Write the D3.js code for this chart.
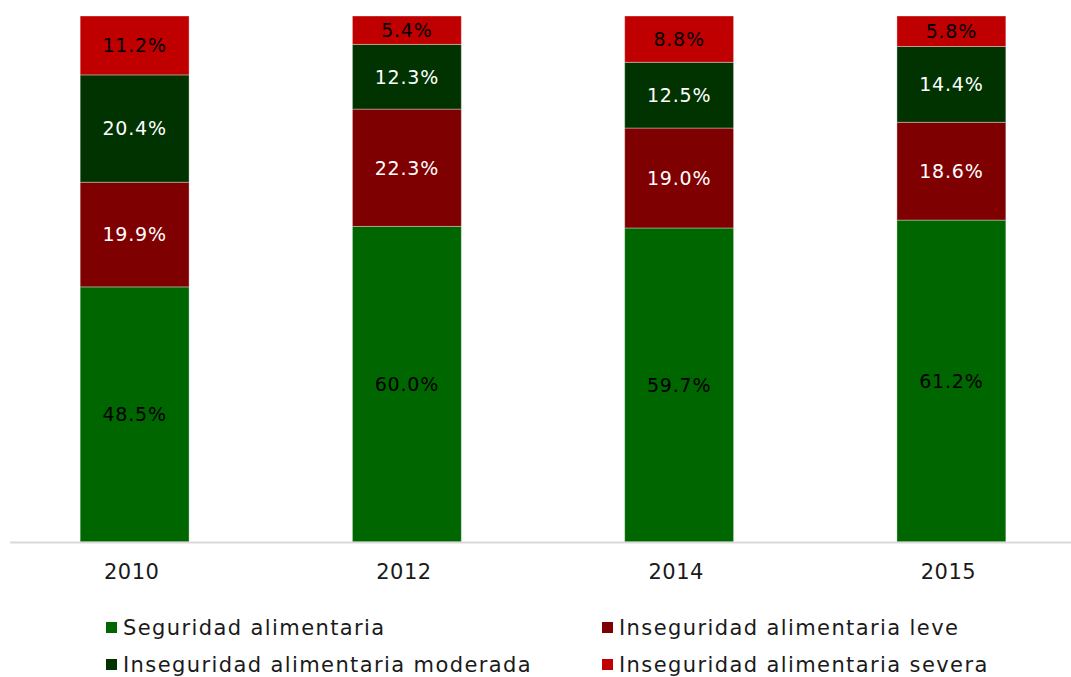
<!DOCTYPE html>
<html><head><meta charset="utf-8">
<script src="https://cdn.jsdelivr.net/npm/d3@7"></script>
<style>body{margin:0;background:#fff;} svg{display:block;}</style>
</head><body>
<svg id="c" width="1071" height="677"></svg>
<script>
const years = ["2010", "2012", "2014", "2015"];
const seriesNames = ["Seguridad alimentaria", "Inseguridad alimentaria leve", "Inseguridad alimentaria moderada", "Inseguridad alimentaria severa"];
const seguridad = [48.5, 60.0, 59.7, 61.2];
const leve = [19.9, 22.3, 19.0, 18.6];
const moderada = [20.4, 12.3, 12.5, 14.4];
const severa = [11.2, 5.4, 8.8, 5.8];
const colors = ["#006600", "#7f0000", "#003300", "#c00000"];
const labelColors = ["#000", "#fff", "#fff", "#000"];

const seriesVals = [seguridad, leve, moderada, severa];
const table = years.map((y, i) => {
  const o = {year: y};
  seriesNames.forEach((s, k) => o[s] = seriesVals[k][i]);
  return o;
});
const stacked = d3.stack().keys(seriesNames)(table);

const svg = d3.select("#c");
const x = d3.scaleBand().domain(years).range([-1.5, 1087.5]).paddingInner(0.6).paddingOuter(0.3);
const y = d3.scaleLinear().domain([0, 100]).range([542, 16]);

const g = svg.append("g");
stacked.forEach((layer, k) => {
  const lg = g.append("g");
  lg.selectAll("rect").data(layer).join("rect")
    .attr("x", d => x(d.data.year))
    .attr("width", x.bandwidth())
    .attr("y", d => y(d[1]))
    .attr("height", d => y(d[0]) - y(d[1]))
    .attr("fill", colors[k])
    .attr("stroke", "rgba(255,255,255,0.35)")
    .attr("stroke-width", 1);
  lg.selectAll("text").data(layer).join("text")
    .attr("x", d => x(d.data.year) + x.bandwidth() / 2)
    .attr("y", d => (y(d[0]) + y(d[1])) / 2)
    .attr("dy", "0.36em")
    .attr("text-anchor", "middle")
    .attr("font-family", "DejaVu Sans, sans-serif")
    .attr("font-size", 19)
    .attr("letter-spacing", 0.8)
    .attr("fill", labelColors[k])
    .text(d => d3.format(".1f")(d[1] - d[0]) + "%");
});

const axis = svg.append("g").attr("transform", "translate(0,542)")
  .call(d3.axisBottom(x).tickSize(0).tickPadding(22));
axis.select(".domain").remove();
axis.append("line").attr("x1", 10).attr("x2", 1071).attr("y1", 0.5).attr("y2", 0.5)
  .attr("stroke", "#d9d9d9").attr("stroke-width", 2);
axis.selectAll(".tick text")
  .attr("font-family", "DejaVu Sans, sans-serif")
  .attr("font-size", 21)
  .attr("letter-spacing", 0.4)
  .attr("fill", "#1a1a1a")
  .attr("dx", -3);

const legendPos = [[107, 622], [603, 622], [107, 659], [603, 659]];
const leg = svg.append("g");
seriesNames.forEach((s, k) => {
  const [lx, ly] = legendPos[k];
  leg.append("rect").attr("x", lx - 1).attr("y", ly).attr("width", 11).attr("height", 11).attr("fill", colors[k]);
  leg.append("text").attr("x", lx + 16).attr("y", ly + 13)
    .attr("font-family", "DejaVu Sans, sans-serif").attr("font-size", 21)
    .attr("letter-spacing", 1.4).attr("fill", "#1a1a1a")
    .text(s);
});
</script>
</body></html>
